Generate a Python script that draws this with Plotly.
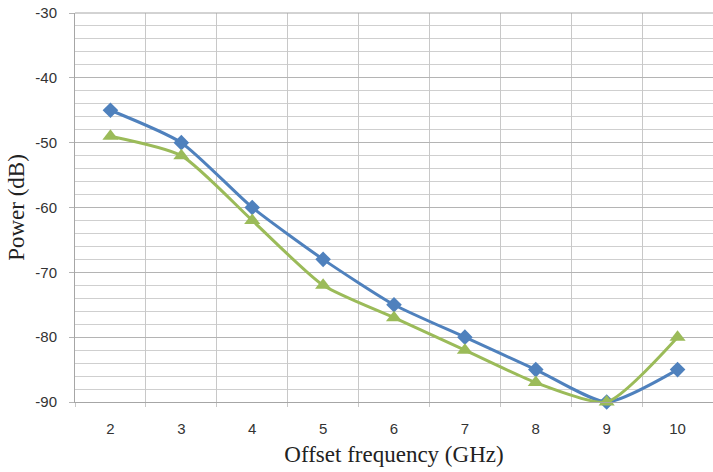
import plotly.graph_objects as go

freq = ["2", "3", "4", "5", "6", "7", "8", "9", "10"]
blue_vals = [-45, -50, -60, -68, -75, -80, -85, -90, -85]
green_vals = [-49, -52, -62, -72, -77, -82, -87, -90, -80]
y_ticks = [-90, -80, -70, -60, -50, -40, -30]
y_labels = ["-90", "-80", "-70", "-60", "-50", "-40", "-30"]

fig = go.Figure()
fig.add_trace(go.Scatter(
    x=freq, y=blue_vals, mode="lines+markers",
    line=dict(color="#4F81BD", width=3, shape="spline", smoothing=0.6),
    marker=dict(symbol="diamond", size=12, color="#4F81BD"),
    showlegend=False, cliponaxis=False))
fig.add_trace(go.Scatter(
    x=freq, y=green_vals, mode="lines+markers",
    line=dict(color="#9BBB59", width=3, shape="spline", smoothing=0.6),
    marker=dict(symbol="triangle-up", size=14, color="#9BBB59"),
    showlegend=False, cliponaxis=False))

fig.update_layout(
    width=713, height=472,
    margin=dict(l=75, r=0, t=13, b=70),
    paper_bgcolor="white", plot_bgcolor="white",
    xaxis=dict(
        type="category", range=[-0.5, 8.5], tickson="boundaries",
        showgrid=True, gridcolor="#C8C8C8", gridwidth=1,
        showline=True, linecolor="#A6A6A6", linewidth=1,
        ticks="outside", ticklen=4, tickcolor="#C8C8C8",
        ticklabelstandoff=13,
        tickfont=dict(family="Liberation Sans", size=15, color="#333333"),
        title=dict(text="Offset frequency (GHz)", standoff=9,
                   font=dict(family="Liberation Serif", size=23, color="#222222")),
        mirror=False, zeroline=False),
    yaxis=dict(
        range=[-90, -30], tickvals=y_ticks, ticktext=y_labels,
        showgrid=True, gridcolor="#B4B4B4", gridwidth=1,
        showline=True, linecolor="#A6A6A6", linewidth=1,
        ticks="outside", ticklen=5, tickcolor="#B4B4B4",
        ticklabelstandoff=9,
        minor=dict(dtick=2, tick0=-90, showgrid=True, gridcolor="#CFCFCF", gridwidth=1),
        tickfont=dict(family="Liberation Sans", size=15, color="#333333"),
        title=dict(text="Power (dB)", standoff=4,
                   font=dict(family="Liberation Serif", size=23, color="#222222")),
        zeroline=False),
    shapes=[dict(type="line", xref="paper", yref="paper", x0=0, x1=1, y0=1, y1=1,
                 line=dict(color="#A6A6A6", width=1))],
)

fig.write_html("out.html")
